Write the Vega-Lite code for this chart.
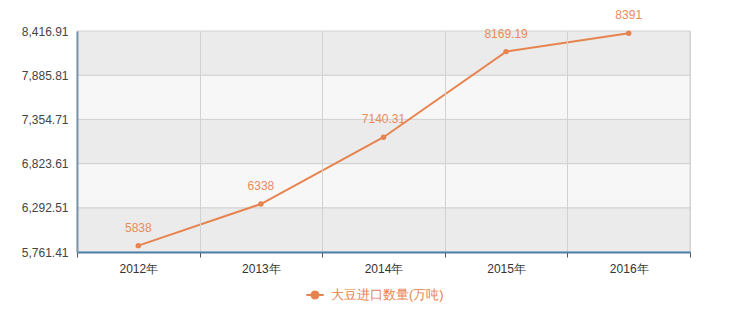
{
  "$schema": "https://vega.github.io/schema/vega-lite/v6.json",
  "width": 613,
  "height": 221,
  "autosize": {"type": "none"},
  "padding": {"left": 77, "top": 31, "right": 40, "bottom": 57},
  "background": "#ffffff",
  "config": {
    "font": "Liberation Sans",
    "view": {"stroke": "#cfcfcf", "strokeWidth": 1}
  },
  "datasets": {
    "imports": [
      {"year": "2012年", "value": 5838, "series": "大豆进口数量(万吨)"},
      {"year": "2013年", "value": 6338, "series": "大豆进口数量(万吨)"},
      {"year": "2014年", "value": 7140.31, "series": "大豆进口数量(万吨)"},
      {"year": "2015年", "value": 8169.19, "series": "大豆进口数量(万吨)"},
      {"year": "2016年", "value": 8391, "series": "大豆进口数量(万吨)"}
    ],
    "bands": [
      {"lo": 5761.41, "hi": 6292.51, "shade": "dark"},
      {"lo": 6292.51, "hi": 6823.61, "shade": "light"},
      {"lo": 6823.61, "hi": 7354.71, "shade": "dark"},
      {"lo": 7354.71, "hi": 7885.81, "shade": "light"},
      {"lo": 7885.81, "hi": 8416.91, "shade": "dark"}
    ]
  },
  "layer": [
    {
      "data": {"name": "bands"},
      "mark": {"type": "rect", "stroke": "#d2d2d2", "strokeWidth": 1},
      "encoding": {
        "y": {"field": "lo", "type": "quantitative", "title": null},
        "y2": {"field": "hi"},
        "color": {"field": "shade", "type": "nominal", "scale": {"domain": ["dark", "light"], "range": ["#ebebeb", "#f7f7f7"]}, "legend": null}
      }
    },
    {
      "data": {"name": "imports"},
      "layer": [
        {
          "mark": {"type": "line", "strokeWidth": 2},
          "encoding": {
            "x": {
              "field": "year", "type": "ordinal", "title": null,
              "scale": {"type": "band", "paddingInner": 0, "paddingOuter": 0},
              "axis": {
                "labelAngle": 0, "labelFontSize": 12, "labelColor": "#333333", "labelPadding": 6,
                "domainColor": "#4f7fa6", "domainWidth": 2, "zindex": 1,
                "tickBand": "extent", "tickColor": "#555555", "tickSize": 5, "tickWidth": 1,
                "grid": true, "gridColor": "#d2d2d2", "gridWidth": 1
              }
            },
            "y": {
              "field": "value", "type": "quantitative", "title": null,
              "scale": {"domain": [5761.41, 8416.91], "nice": false, "zero": false},
              "axis": {
                "values": [5761.41, 6292.51, 6823.61, 7354.71, 7885.81, 8416.91],
                "format": ",.2f", "labelFontSize": 12, "labelColor": "#444444", "labelPadding": 9,
                "ticks": false, "domainColor": "#7d95a8", "domainWidth": 2, "zindex": 1,
                "grid": false
              }
            },
            "color": {
              "field": "series", "type": "nominal", "title": null,
              "scale": {"range": ["#e6834f"]},
              "legend": {
                "orient": "none", "legendX": 228, "legendY": 254,
                "symbolType": "M-1,0H-0.45M0.45,0H1M-0.4,0A0.4,0.4,0,1,1,0.4,0A0.4,0.4,0,1,1,-0.4,0",
                "symbolSize": 300, "symbolStrokeWidth": 2, "symbolFillColor": "#e6834f",
                "labelFontSize": 13, "labelColor": "#e6834f", "labelOffset": 6
              }
            }
          }
        },
        {
          "mark": {"type": "point", "filled": true, "size": 30, "opacity": 1, "color": "#e6834f"},
          "encoding": {
            "x": {"field": "year", "type": "ordinal"},
            "y": {"field": "value", "type": "quantitative"}
          }
        },
        {
          "mark": {"type": "text", "dy": -18, "fontSize": 12, "color": "#ea8a5c"},
          "encoding": {
            "x": {"field": "year", "type": "ordinal"},
            "y": {"field": "value", "type": "quantitative"},
            "text": {"field": "value", "type": "quantitative"}
          }
        }
      ]
    }
  ],
  "resolve": {"scale": {"color": "independent"}}
}
